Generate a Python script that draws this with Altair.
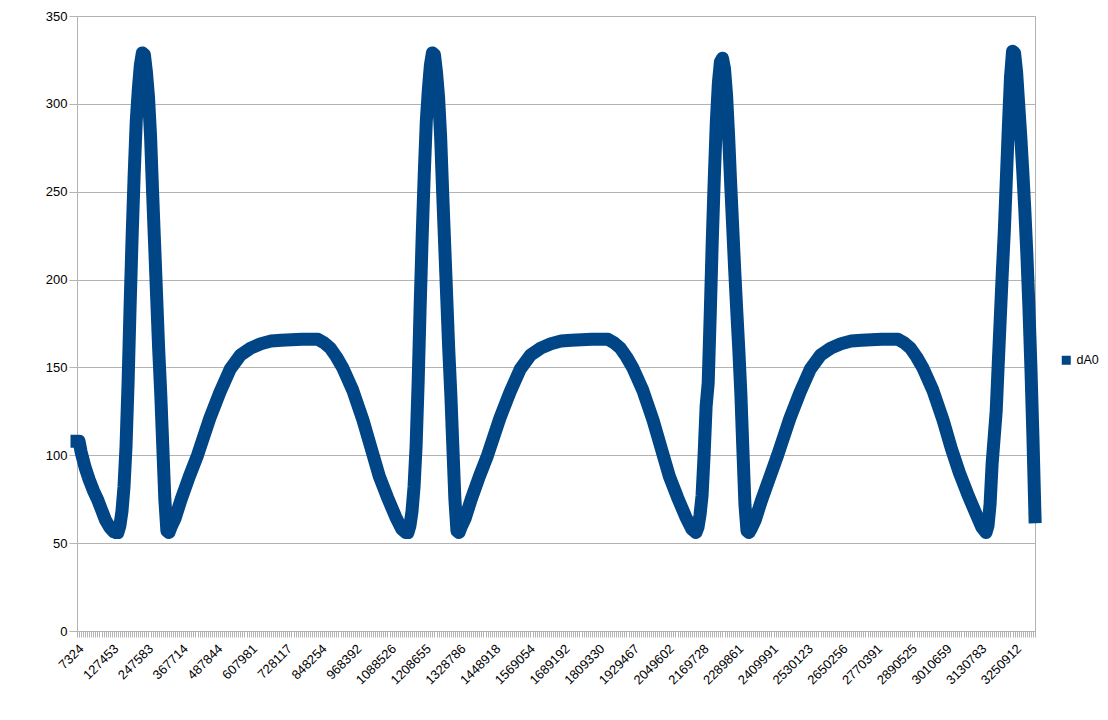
import json
import altair as alt
import pandas as pd

# category labels shown on the x axis (every 17th sample)
tick_labels = ["7324", "127453", "247583", "367714", "487844", "607981", "728117",
               "848254", "968392", "1088526", "1208655", "1328786", "1448918",
               "1569054", "1689192", "1809330", "1929467", "2049602", "2169728",
               "2289861", "2409991", "2530123", "2650256", "2770391", "2890525",
               "3010659", "3130783", "3250912"]
n_categories = 470
label_step = 17

# sample index (category position) and dA0 value
sample_idx = [
    0, 1, 2, 4, 6, 8, 10, 12, 14, 16, 18, 19, 20, 21, 22, 23, 24, 25, 26, 27, 28, 29, 30, 31, 32,
    33, 34, 35, 36, 37, 38, 39, 40, 41, 42, 43, 44,
    45, 46, 48, 51, 55, 59, 65, 70, 75, 80, 85, 90, 95, 100, 110, 118, 121, 124, 127, 130, 135,
    140, 144, 148, 152, 156, 159, 161, 162,
    163, 164, 165, 166, 167, 168, 169, 170, 171, 172, 173, 174, 175, 176, 177, 178, 179, 180,
    181, 182, 183, 184, 185, 186, 187,
    188, 190, 193, 197, 201, 207, 212, 217, 222, 227, 232, 237, 242, 252, 260, 263, 266, 269,
    272, 277, 282, 286, 290, 294, 298, 301, 303,
    304, 305, 306, 307, 308, 309, 310, 311, 312, 313, 314, 315, 316, 317, 318, 319, 320, 321,
    322, 323, 324, 325, 326, 327, 328, 329,
    330, 332, 335, 339, 343, 349, 354, 359, 364, 369, 374, 379, 384, 394, 402, 405, 408, 411,
    414, 419, 424, 428, 432, 436, 440, 443, 445,
    446, 447, 448, 449, 450, 451, 452, 453, 454, 455, 456, 457, 458, 459, 460, 461, 462, 463,
    464, 465, 466, 467, 468, 469,
]
dA0 = [
    108, 108, 102, 93, 86, 80, 75, 69, 63, 59, 56.5, 56, 56, 60, 68, 82, 105, 141, 185, 225, 260, 290, 308, 322, 329,
    328, 318, 304, 282, 250, 220, 190, 160, 135, 105, 75, 57,
    56, 59, 64, 75, 88, 100, 121, 136, 149, 157, 161, 163.5, 165, 165.5, 166, 166, 164, 161, 156, 150, 137,
    120, 104, 88, 76, 65, 58, 56, 56,
    60, 68, 82, 105, 141, 185, 225, 260, 290, 308, 322, 329, 328, 318, 304, 282, 250, 220,
    190, 160, 135, 105, 75, 57, 56,
    59, 64, 75, 88, 100, 121, 136, 149, 157, 161, 163.5, 165, 165.5, 166, 166, 164, 161, 156,
    150, 137, 120, 104, 88, 76, 65, 58, 56,
    59, 66, 77, 100, 128, 141, 180, 222, 258, 290, 312, 324, 326, 320, 305, 282, 255, 230,
    205, 182, 160, 135, 103, 72, 57, 56,
    58, 63, 74, 87, 100, 121, 136, 149, 157, 161, 163.5, 165, 165.5, 166, 166, 164, 161, 156,
    150, 137, 120, 104, 90, 78, 67, 59, 56,
    60, 72, 95, 110, 125, 152, 178, 204, 228, 258, 288, 315, 330, 329, 318, 300, 282, 262,
    240, 215, 185, 150, 110, 65,
]

df = pd.DataFrame({"sample": sample_idx, "dA0": dA0, "series": "dA0"})

grid_col = "#b3b3b3"
label_expr = ("datum.value % " + str(label_step) + " == 0 ? " + json.dumps(tick_labels)
              + "[datum.value / " + str(label_step) + "] : ''")

chart = alt.Chart(df).mark_line(
    strokeWidth=13, strokeCap="square", strokeJoin="round"
).encode(
    x=alt.X("sample:Q",
            scale=alt.Scale(domain=[0, n_categories - 1], nice=False, zero=False),
            axis=alt.Axis(title=None, values=list(range(n_categories)), labelExpr=label_expr,
                          labelAngle=-45, labelAlign="right", labelBaseline="top",
                          labelOverlap=False, labelFlush=False, labelBound=False,
                          tickSize=6, labelPadding=5, grid=False)),
    y=alt.Y("dA0:Q",
            scale=alt.Scale(domain=[0, 350], nice=False),
            axis=alt.Axis(title=None, values=[0, 50, 100, 150, 200, 250, 300, 350],
                          tickSize=8, labelPadding=2, grid=True)),
    color=alt.Color("series:N", scale=alt.Scale(range=["#004586"]),
                    legend=alt.Legend(title=None, orient="none", legendX=983, legendY=338,
                                      symbolType="square", symbolSize=81,
                                      symbolFillColor="#004586", symbolStrokeWidth=0,
                                      labelFont="Liberation Sans", labelFontSize=12.5,
                                      labelColor="#000000", labelOffset=4)),
).properties(
    width=958, height=615,
    autosize="none",
    padding={"left": 69, "top": 8, "right": 64, "bottom": 80},
).configure_view(
    stroke=grid_col, strokeWidth=1
).configure_axis(
    domainColor=grid_col, tickColor=grid_col, gridColor=grid_col,
    labelFont="Liberation Sans", labelFontSize=13, labelColor="#000000",
)

chart.save("out.html", embed_options={"renderer": "svg", "actions": False})
